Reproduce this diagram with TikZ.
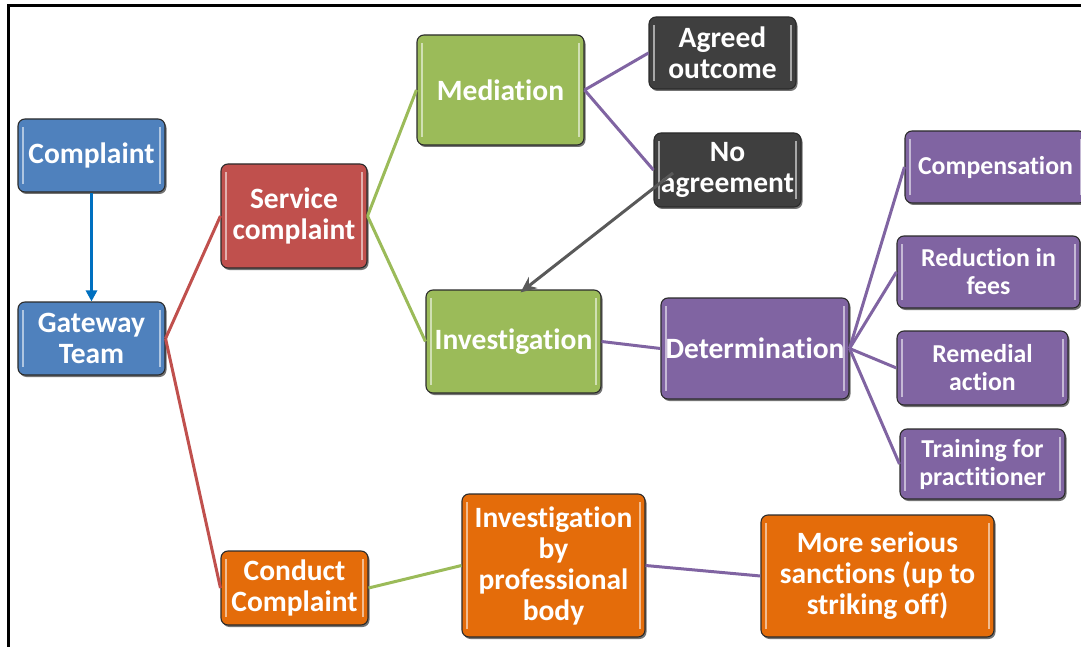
\documentclass[tikz,border=0pt]{standalone}
\usepackage{fontspec}
\setmainfont{Carlito}[Ligatures=NoCommon]
\usetikzlibrary{shadows,calc,arrows.meta}
\definecolor{cblue}{HTML}{4F81BD}
\definecolor{cred}{HTML}{C0504D}
\definecolor{cgreen}{HTML}{9BBB59}
\definecolor{cpurple}{HTML}{8064A2}
\definecolor{cdark}{HTML}{3F3F3F}
\definecolor{corange}{HTML}{E46C0A}
\definecolor{carrowblue}{HTML}{0070C0}
\definecolor{cgray}{HTML}{595959}
\definecolor{cedge}{HTML}{2B2B2B}
\tikzset{
  box/.style={draw=cedge, line width=1.1pt, fill=#1, rounded corners=7pt,
    text=white, font=\fontsize{29.5}{31}\selectfont\bfseries, align=center,
    inner sep=0pt,
    drop shadow={shadow xshift=1.5pt, shadow yshift=-2pt, opacity=0.55, fill=black},
    path picture={
      \draw[white, opacity=0.55, line width=1.3pt]
        ($(path picture bounding box.south west)+(5pt,8pt)$) --
        ($(path picture bounding box.north west)+(5pt,-8pt)$);
      \draw[white, opacity=0.55, line width=1.3pt]
        ($(path picture bounding box.south east)+(-5pt,8pt)$) --
        ($(path picture bounding box.north east)+(-5pt,-8pt)$);
    }},
  small/.style={font=\fontsize{25.8}{28}\selectfont\bfseries},
  link/.style={line width=3pt, draw=#1},
}
\begin{document}
\begin{tikzpicture}[x=1pt,y=-1pt]
\useasboundingbox (0,0) rectangle (1081,647);
% frame
\draw[line width=3pt] (8,647) -- (8,6) -- (1081,6);
% nodes
\node[box=cblue, minimum width=147, minimum height=73] (complaint) at (91.5,155.5) {Complaint};
\node[box=cblue, minimum width=147, minimum height=73] (gateway) at (91.5,338.5) {Gateway\\Team};
\node[box=cred, minimum width=146, minimum height=104] (service) at (294,216) {Service\\complaint};
\node[box=corange, minimum width=147, minimum height=74] (conduct) at (294.5,588) {Conduct\\Complaint};
\node[box=cgreen, minimum width=167, minimum height=110] (mediation) at (500.5,90) {Mediation};
\node[box=cdark, minimum width=147, minimum height=72] (agreed) at (722.5,53) {Agreed\\outcome};
\node[box=cdark, minimum width=147, minimum height=74] (noagree) at (727.5,170) {No\\agreement};
\node[box=cgreen, minimum width=175, minimum height=103] (invest) at (513.5,341.5) {Investigation};
\node[box=cpurple, minimum width=188, minimum height=101] (determ) at (755,348.5) {Determination};
\node[box=cpurple, small, minimum width=181, minimum height=72] (comp) at (995.5,167) {Compensation};
\node[box=cpurple, small, minimum width=183, minimum height=72] (reduction) at (988.5,272) {Reduction in\\fees};
\node[box=cpurple, small, minimum width=171, minimum height=74] (remedial) at (982.5,368) {Remedial\\action};
\node[box=cpurple, small, minimum width=165, minimum height=70] (training) at (982.5,464) {Training for\\practitioner};
\node[box=corange, minimum width=183, minimum height=143] (invprof) at (553.5,565.5) {Investigation\\by\\professional\\body};
\node[box=corange, minimum width=233, minimum height=122] (sanctions) at (877.5,576) {More serious\\sanctions (up to\\striking off)};
% connectors
\draw[line width=2.8pt, draw=carrowblue, -{Triangle[length=11pt,width=11pt]}] (complaint.south) -- (gateway.north);
\draw[link=cred] (gateway.east) -- (service.west);
\draw[link=cred] (gateway.east) -- (conduct.west);
\draw[link=cgreen] (service.east) -- (mediation.west);
\draw[link=cgreen] (service.east) -- (invest.west);
\draw[link=cpurple] (mediation.east) -- (agreed.west);
\draw[link=cpurple] (mediation.east) -- (noagree.west);
\draw[link=cpurple] (invest.east) -- (determ.west);
\draw[link=cpurple] (determ.east) -- (comp.west);
\draw[link=cpurple] (determ.east) -- (reduction.west);
\draw[link=cpurple] (determ.east) -- (remedial.west);
\draw[link=cpurple] (determ.east) -- (training.west);
\draw[link=cgreen] (conduct.east) -- (invprof.west);
\draw[link=cpurple] (invprof.east) -- (sanctions.west);
\coordinate (nastart) at (673,173);
\coordinate (invtop) at ($(invest.north)+(7pt,-3pt)$);
\draw[line width=3pt, draw=cgray, -{Stealth[length=16pt,width=14pt]}] (nastart) -- (invtop);
\end{tikzpicture}
\end{document}
